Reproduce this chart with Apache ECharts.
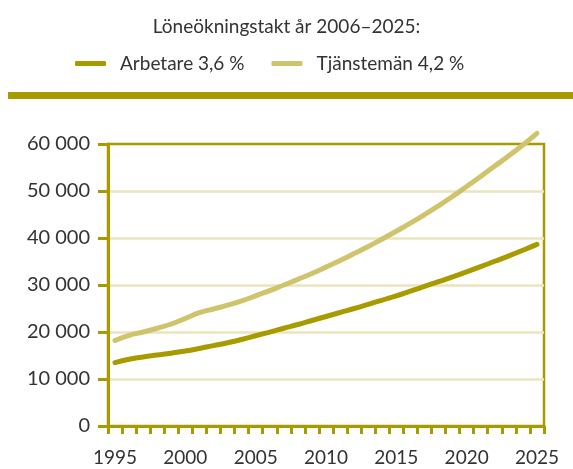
<!DOCTYPE html>
<html>
<head>
<meta charset="utf-8">
<script src="https://cdn.jsdelivr.net/npm/echarts@6/dist/echarts.min.js"></script>
<style>
  html, body { margin: 0; padding: 0; background: #fff; }
  #panel { width: 573px; height: 469px; }
</style>
</head>
<body>
<div id="panel"></div>
<script>
var years = ['1995','1996','1997','1998','1999','2000','2001','2002','2003','2004',
             '2005','2006','2007','2008','2009','2010','2011','2012','2013','2014',
             '2015','2016','2017','2018','2019','2020','2021','2022','2023','2024','2025'];
var arbetare = [13500, 14200, 14700, 15100, 15500, 15950, 16500, 17100, 17700, 18400,
                19200, 19990, 20800, 21600, 22450, 23300, 24150, 25000, 25900, 26800,
                27700, 28700, 29700, 30700, 31750, 32800, 33900, 35050, 36200, 37400, 38650];
var tjansteman = [18200, 19300, 20000, 20800, 21700, 22900, 24100, 24900, 25700, 26600,
                  27700, 28800, 30000, 31200, 32450, 33800, 35200, 36700, 38200, 39800,
                  41450, 43150, 44950, 46850, 48850, 50950, 53100, 55300, 57500, 59800, 62250];
var seriesNames = ['Arbetare 3,6 %', 'Tjänstemän 4,2 %'];

var dark = '#a89b00';
var light = '#cfc46c';
var gridCol = '#ebe5bd';
var textCol = '#333333';
var font = 'Lato';

function yLabel(v) {
    var s = String(v);
    if (v >= 1000) s = s.slice(0, s.length - 3) + ' ' + s.slice(-3);
    return s;
}

var myChart = echarts.init(document.getElementById('panel'));
myChart.setOption({
    backgroundColor: '#ffffff',
    animation: false,
    title: {
        text: 'Löneökningstakt år 2006–2025:',
        left: 'center',
        top: 12,
        textStyle: { fontFamily: font, fontSize: 19, fontWeight: 'normal', color: textCol }
    },
    legend: {
        top: 49,
        left: 70,
        itemWidth: 31,
        itemHeight: 5,
        itemGap: 27,
        icon: 'roundRect',
        textStyle: { fontFamily: font, fontSize: 19, color: textCol, padding: [0, 0, 0, 9] },
        data: seriesNames
    },
    graphic: [{
        type: 'rect',
        shape: { x: 8, y: 92, width: 565, height: 7 },
        style: { fill: dark }
    }],
    grid: {
        left: 108, right: 29, top: 144, bottom: 43,
        show: true,
        borderColor: dark,
        borderWidth: 2.5
    },
    xAxis: {
        type: 'category',
        data: years,
        boundaryGap: true,
        axisLine: { show: true, lineStyle: { color: dark, width: 3 } },
        axisTick: { show: true, interval: 0, length: 8, lineStyle: { color: dark, width: 3 } },
        axisLabel: {
            interval: 4, margin: 22,
            fontFamily: font, fontSize: 19, color: textCol
        },
        splitLine: { show: false }
    },
    yAxis: {
        type: 'value',
        min: 0, max: 60000, interval: 10000,
        axisLine: { show: true, lineStyle: { color: dark, width: 3 } },
        axisTick: { show: true, length: 10, lineStyle: { color: dark, width: 3 } },
        axisLabel: {
            margin: 18, formatter: yLabel,
            fontFamily: font, fontSize: 20, color: textCol
        },
        splitLine: { show: true, showMinLine: false, showMaxLine: false, lineStyle: { color: gridCol, width: 2.5 } }
    },
    series: [{
        name: seriesNames[0],
        type: 'line',
        data: arbetare,
        smooth: true,
        symbol: 'none',
        clip: false,
        color: dark,
        lineStyle: { width: 5, cap: 'round', color: dark }
    }, {
        name: seriesNames[1],
        type: 'line',
        data: tjansteman,
        smooth: true,
        symbol: 'none',
        clip: false,
        color: light,
        lineStyle: { width: 5, cap: 'round', color: light }
    }]
});
</script>
</body>
</html>
